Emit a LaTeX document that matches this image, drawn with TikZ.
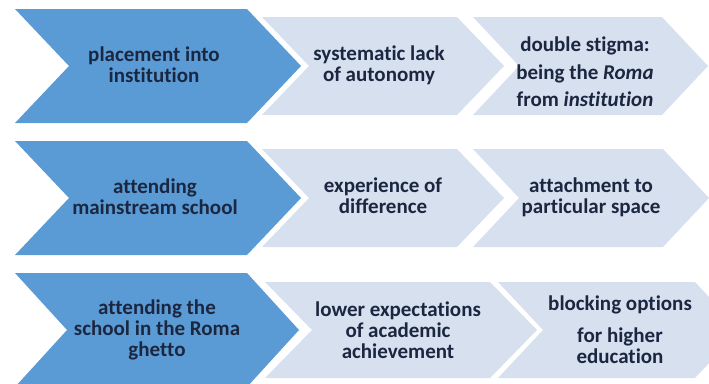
\documentclass[tikz,border=0pt]{standalone}
\usepackage{fontspec}
\setmainfont{Carlito}[Ligatures=NoCommon]
\usetikzlibrary{calc}
\definecolor{Fonce}{RGB}{91,155,213}
\definecolor{Clair}{RGB}{215,224,239}
\definecolor{Encre}{RGB}{27,39,64}
\newcommand{\Chevron}[6]{%
    % #1 couleur, #2 bord gauche, #3 coin droit
    % #4 milieu, #5 demi-hauteur, #6 profondeur de la pointe
    \fill[#1] (#2,#4-#5) -- (#3,#4-#5)
            -- (#3+#6,#4) -- (#3,#4+#5)
            -- (#2,#4+#5) -- (#2+#6,#4) -- cycle ;
}
\tikzset{texte/.style={text=Encre,align=center,inner sep=0pt,
    font=\fontsize{21}{21}\selectfont\bfseries}}
\begin{document}
\begin{tikzpicture}[x=1pt,y=-1pt]

\useasboundingbox (0,0) rectangle (709,383);
\clip (0,0) rectangle (709,383);

% ligne 1
\Chevron{Fonce}{15}{247}{66}{57}{54}
\Chevron{Clair}{262}{457}{66}{49}{47}
\Chevron{Clair}{473}{662}{66}{49}{46}
\node[texte] (placement) at (154,65) {placement into\\institution};
\node[texte] (lack) at (379,65) {systematic lack\\of autonomy};
\node[texte] (stigma) at (585,72) {double stigma:\\[7pt]being the \textit{Roma}\\[6pt]from \textit{institution}};

% ligne 2
\Chevron{Fonce}{15}{247}{198}{57}{54}
\Chevron{Clair}{262}{457}{198}{49}{47}
\Chevron{Clair}{473}{663}{198}{49}{46}
\node[texte] (attending) at (155,197) {attending\\mainstream school};
\node[texte] (difference) at (383,196) {experience of\\difference};
\node[texte] (space) at (591,197) {attachment to\\particular space};

% ligne 3
\Chevron{Fonce}{15}{247}{330}{57}{52}
\Chevron{Clair}{265}{490}{330}{48}{47}
\Chevron{Clair}{498}{695}{330}{48}{45}
\node[texte] (ghetto) at (157,330) {attending the\\school in the Roma\\ghetto};
\node[texte] (expect) at (398,330) {lower expectations\\of academic\\achievement};
\node[texte] (options) at (620,330) {blocking options\\[11pt]for higher\\education};

\end{tikzpicture}
\end{document}
